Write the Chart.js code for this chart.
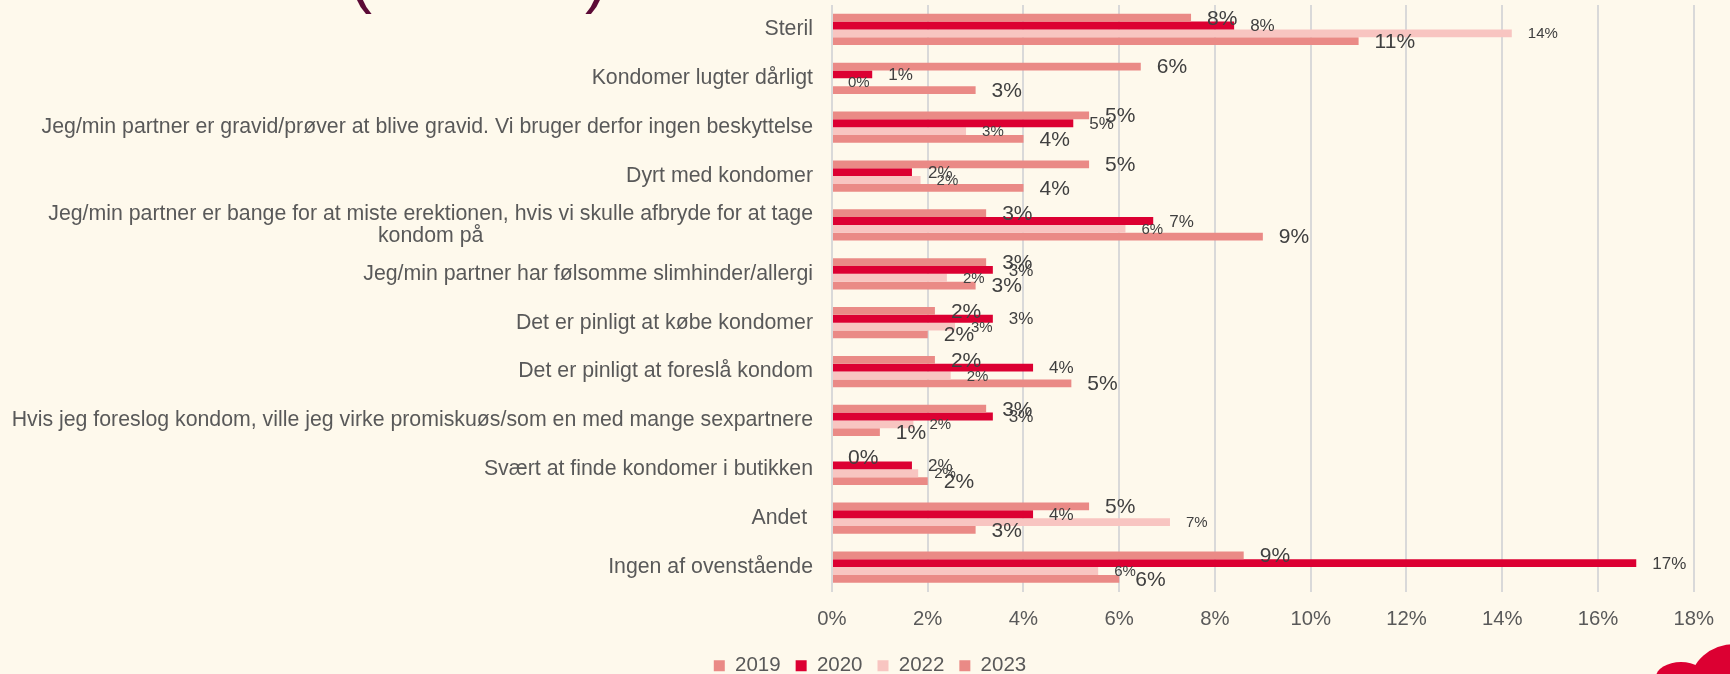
<html>
<head>
<meta charset="utf-8">
<style>
  body { margin: 0; background: #FEF9EC; overflow: hidden; }
  #wrap { position: relative; width: 1730px; height: 674px; }
  .paren { position: absolute; font-family: "Liberation Sans", Arial, sans-serif; font-size: 66px; line-height: 66px; color: #5C0B36; }
  .blob { position: absolute; background: #DC0032; border-radius: 50%; }
</style>
</head>
<body>
<div id="wrap">
    <div class="paren" style="left: 350px; top: -56px;">(</div>
    <div class="paren" style="left: 585px; top: -56px;">)</div>
    <div class="blob" style="left: 1656px; top: 662px; width: 50px; height: 30px;"></div>
    <div class="blob" style="left: 1690px; top: 644px; width: 90px; height: 80px;"></div>
    <canvas id="reasons"></canvas>
</div>

<script src="https://cdn.jsdelivr.net/npm/chart.js"></script>

<script>
    var categories = [
        'Steril',
        'Kondomer lugter dårligt',
        'Jeg/min partner er gravid/prøver at blive gravid. Vi bruger derfor ingen beskyttelse',
        'Dyrt med kondomer',
        ['Jeg/min partner er bange for at miste erektionen, hvis vi skulle afbryde for at tage', 'kondom på'],
        'Jeg/min partner har følsomme slimhinder/allergi',
        'Det er pinligt at købe kondomer',
        'Det er pinligt at foreslå kondom',
        'Hvis jeg foreslog kondom, ville jeg virke promiskuøs/som en med mange sexpartnere',
        'Svært at finde kondomer i butikken',
        'Andet ',
        'Ingen af ovenstående'
    ];
    var years = ['2019', '2020', '2022', '2023'];
    var v2019 = [7.5, 6.45, 5.37, 5.37, 3.22, 3.22, 2.15, 2.15, 3.22, 0, 5.37, 8.6];
    var v2020 = [8.4, 0.84, 5.04, 1.67, 6.71, 3.36, 3.36, 4.2, 3.36, 1.67, 4.2, 16.8];
    var v2022 = [14.2, 0, 2.8, 1.85, 6.13, 2.4, 2.57, 2.48, 1.7, 1.8, 7.06, 5.56];
    var v2023 = [11, 3, 4, 4, 9, 3, 2, 5, 1, 2, 3, 6];
    var xTicks = [0, 2, 4, 6, 8, 10, 12, 14, 16, 18];

    var colors = ['#EA8A86', '#DC0032', '#F8C5C1', '#EA8A86'];
    var labelSizes = [21, 17, 15, 21];
    var font = '"Liberation Sans", Arial, sans-serif';
    var textColor = '#595959';

    // category names drawn by hand so the wrapped one is centred like in Excel
    var catLabels = {
        id: 'catLabels',
        afterDraw(chart) {
            let ctx = chart.ctx;
            let y = chart.scales.y;
            let right = chart.chartArea.left - 19;
            ctx.save();
            ctx.fillStyle = textColor;
            ctx.font = '21.3px ' + font;
            ctx.textBaseline = 'middle';
            categories.forEach((c, i) => {
                let cy = y.getPixelForTick(i);
                let lines = Array.isArray(c) ? c : [c];
                let w = Math.max(...lines.map(l => ctx.measureText(l).width));
                lines.forEach((l, j) => {
                    let ly = cy + (j - (lines.length - 1) / 2) * 22;
                    if (lines.length > 1) {
                        ctx.textAlign = 'center';
                        ctx.fillText(l, right - w / 2, ly);
                    } else {
                        ctx.textAlign = 'right';
                        ctx.fillText(l, right, ly);
                    }
                });
            });
            ctx.restore();
        }
    };

    var valueLabels = {
        id: 'valueLabels',
        afterDatasetsDraw(chart) {
            let ctx = chart.ctx;
            ctx.save();
            ctx.fillStyle = '#404040';
            ctx.textAlign = 'left';
            ctx.textBaseline = 'middle';
            chart.data.datasets.forEach((ds, d) => {
                ctx.font = labelSizes[d] + 'px ' + font;
                chart.getDatasetMeta(d).data.forEach((bar, i) => {
                    ctx.fillText(Math.round(ds.data[i]) + '%', bar.x + 16, bar.y + 1);
                });
            });
            ctx.restore();
        }
    };

    var chart = new Chart(document.getElementById('reasons'), {
        type: 'bar',
        data: {
            labels: categories,
            datasets: [v2019, v2020, v2022, v2023].map((vals, i) => ({
                label: years[i],
                data: vals,
                backgroundColor: colors[i],
                borderWidth: 0,
            }))
        },
        options: {
            indexAxis: 'y',
            responsive: true,
            maintainAspectRatio: false,
            animation: false,
            categoryPercentage: 0.64,
            barPercentage: 1.0,
            layout: { padding: { top: 5, right: 36, left: 46, bottom: -12 } },
            scales: {
                x: {
                    min: 0,
                    max: 18,
                    afterBuildTicks: s => { s.ticks = xTicks.map(v => ({ value: v })); },
                    afterFit: s => { s.height = 49; },
                    ticks: {
                        callback: v => v + '%',
                        color: textColor,
                        font: { family: font, size: 20.3 },
                        padding: 16,
                        maxRotation: 0,
                    },
                    grid: { color: '#D9D9D9', lineWidth: 2, drawTicks: false },
                    border: { display: false },
                },
                y: {
                    afterFit: s => { s.width = 786; },
                    ticks: { display: false },
                    grid: { display: false, drawTicks: false },
                    border: { display: false },
                }
            },
            plugins: {
                legend: {
                    position: 'bottom',
                    labels: {
                        boxWidth: 11,
                        boxHeight: 11,
                        padding: 15,
                        color: textColor,
                        font: { family: font, size: 20.5 },
                    }
                },
                tooltip: { enabled: false },
            }
        },
        plugins: [catLabels, valueLabels]
    });
</script>
</body>
</html>
